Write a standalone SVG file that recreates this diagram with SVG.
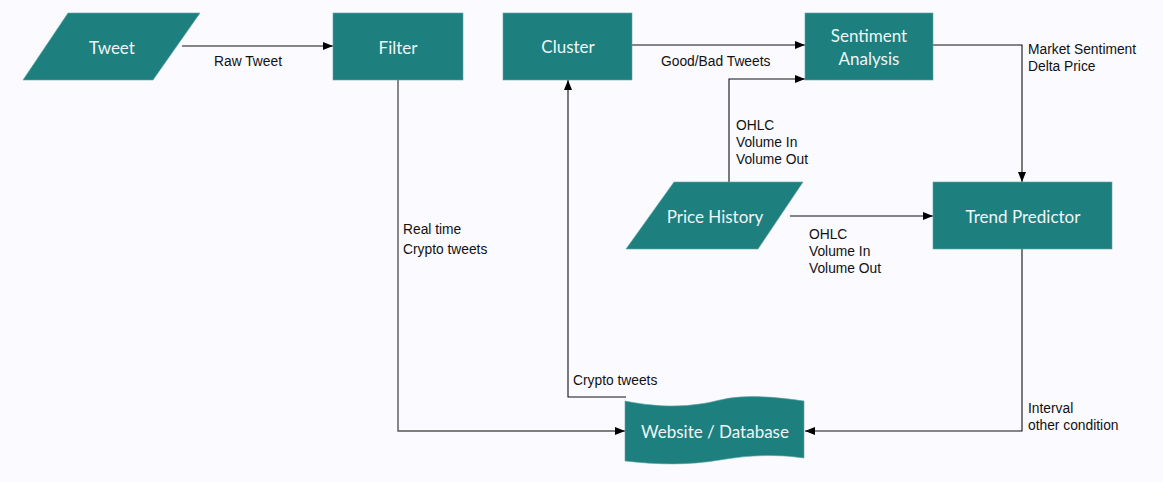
<svg xmlns="http://www.w3.org/2000/svg" width="1163" height="482" viewBox="0 0 1163 482">
<defs>
<style>
.node{fill:#1e7f7f;stroke:#5fa5a5;stroke-width:0.6}
.nt{font-family:Lato,"Open Sans","Noto Sans",sans-serif;font-size:17px;fill:#eef6f6;text-anchor:middle}
.lbl{font-family:"Liberation Sans",Arial,sans-serif;font-size:13.8px;fill:#111}
.con{fill:none;stroke:#111;stroke-width:1.1;marker-end:url(#ah)}
</style>
<marker id="ah" viewBox="0 0 10 8" refX="10" refY="4" markerWidth="10" markerHeight="8" markerUnits="userSpaceOnUse" orient="auto">
<path d="M0,0 L10,4 L0,8 Z" fill="#000"/>
</marker>
</defs>
<rect width="1163" height="482" fill="#fbfaff"/>
<g id="connectors">
<path class="con" d="M182,46 H333"/>
<path class="con" d="M398,80 V431 H625" style="stroke:#555;stroke-width:1.4"/>
<path class="con" d="M626,397 H568 V80"/>
<path class="con" d="M632,45 H805"/>
<path class="con" d="M729,182 V79 H805"/>
<path class="con" d="M933,45 H1022 V182"/>
<path class="con" d="M790,216 H933"/>
<path class="con" d="M1022,249 V431 H805"/>
</g>
<g id="labels">
<text class="lbl" x="214" y="66">Raw Tweet</text>
<text class="lbl" x="661" y="66">Good/Bad Tweets</text>
<text class="lbl" x="1028" y="54">Market Sentiment</text>
<text class="lbl" x="1028" y="71">Delta Price</text>
<text class="lbl" x="736" y="130">OHLC</text>
<text class="lbl" x="736" y="147">Volume In</text>
<text class="lbl" x="736" y="164">Volume Out</text>
<text class="lbl" x="809" y="239">OHLC</text>
<text class="lbl" x="809" y="256">Volume In</text>
<text class="lbl" x="809" y="273">Volume Out</text>
<text class="lbl" x="403" y="234">Real time</text>
<text class="lbl" x="403" y="254">Crypto tweets</text>
<text class="lbl" x="573" y="385">Crypto tweets</text>
<text class="lbl" x="1028" y="413">Interval</text>
<text class="lbl" x="1028" y="430">other condition</text>
</g>
<g id="tweet">
<polygon class="node" points="68,13 200,13 153,80 23,80"/>
<text class="nt" x="112" y="54">Tweet</text>
</g>
<g id="filter">
<rect class="node" x="333" y="13" width="130" height="67"/>
<text class="nt" x="398" y="54">Filter</text>
</g>
<g id="cluster">
<rect class="node" x="503" y="13" width="129" height="67"/>
<text class="nt" x="568" y="53">Cluster</text>
</g>
<g id="sentiment">
<rect class="node" x="805" y="13" width="128" height="67"/>
<text class="nt" x="869" y="42">Sentiment</text>
<text class="nt" x="869" y="65">Analysis</text>
</g>
<g id="price-history">
<polygon class="node" points="674,182 803,182 758,249 626,249"/>
<text class="nt" x="715" y="223">Price History</text>
</g>
<g id="trend-predictor">
<rect class="node" x="933" y="182" width="179" height="67"/>
<text class="nt" x="1023" y="223">Trend Predictor</text>
</g>
<g id="website">
<path class="node" d="M625,401 C670,410 700,405 720,400 C745,394 775,397 804,401 L804,458 C775,454 750,455 720,460 C690,465 660,465 625,461 Z"/>
<text class="nt" x="715" y="438">Website / Database</text>
</g>
</svg>
